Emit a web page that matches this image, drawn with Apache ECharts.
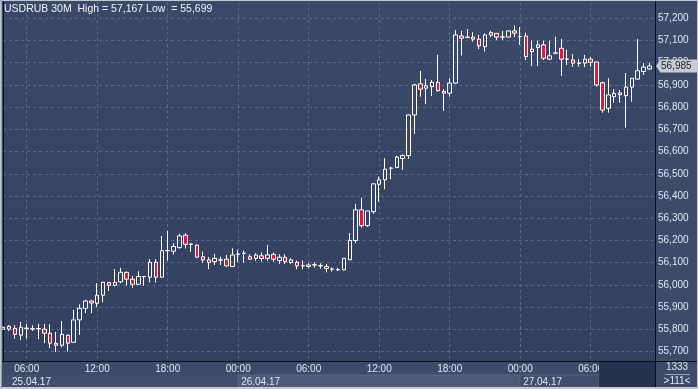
<!DOCTYPE html>
<html><head><meta charset="utf-8">
<script src="https://cdn.jsdelivr.net/npm/echarts@6/dist/echarts.min.js"></script>
<style>html,body{margin:0;padding:0;background:#3d4a68;}#c{width:698px;height:389px;}</style>
</head><body><div id="c"></div>
<script>
// ---- data (30-minute bars, index 0 = 25.04.17 04:00) ----
const opens = [55.801,55.814,55.805,55.774,55.804,55.803,55.803,55.801,55.783,55.738,
55.729,55.774,55.742,55.843,55.895,55.928,55.918,55.954,56.011,55.999,
56.014,56.057,56.026,56.003,56.037,56.035,56.102,56.035,56.154,56.152,
56.168,56.224,56.183,56.179,56.127,56.113,56.105,56.112,56.116,56.083,
56.138,56.142,56.127,56.120,56.131,56.120,56.138,56.110,56.125,56.101,
56.102,56.086,56.090,56.090,56.087,56.083,56.071,56.069,56.068,56.113,
56.200,56.338,56.267,56.330,56.453,56.473,56.525,56.528,56.569,56.582,
56.765,56.905,56.885,56.892,56.912,56.871,56.863,56.908,57.120,57.114,
57.115,57.106,57.072,57.124,57.132,57.115,57.115,57.143,57.117,57.120,
57.061,57.068,57.080,57.016,57.043,57.065,57.016,57.012,56.998,56.998,
57.016,57.003,56.910,56.795,56.847,56.864,56.852,56.890,56.926,56.960,
56.972];
const closes = [55.810,55.801,55.778,55.810,55.806,55.802,55.804,55.783,55.738,55.729,
55.778,55.738,55.843,55.895,55.928,55.919,55.954,56.012,55.999,56.012,
56.057,56.026,56.003,56.038,56.038,56.102,56.035,56.154,56.155,56.173,
56.221,56.183,56.184,56.125,56.113,56.101,56.120,56.113,56.086,56.135,
56.139,56.143,56.116,56.135,56.119,56.135,56.116,56.125,56.105,56.113,
56.086,56.087,56.083,56.091,56.086,56.074,56.072,56.068,56.120,56.200,
56.338,56.267,56.333,56.455,56.473,56.521,56.526,56.575,56.582,56.765,
56.900,56.881,56.896,56.912,56.874,56.863,56.908,57.125,57.110,57.115,
57.106,57.076,57.125,57.135,57.115,57.116,57.143,57.133,57.118,57.027,
57.050,57.080,57.020,57.031,57.044,57.016,57.017,56.998,56.997,57.016,
57.002,56.900,56.787,56.855,56.862,56.856,56.890,56.930,56.964,56.980,
56.985];
const lows = [55.799,55.793,55.759,55.753,55.759,55.793,55.756,55.738,55.716,55.699,
55.720,55.701,55.740,55.775,55.873,55.873,55.900,55.923,55.973,55.993,
56.008,55.997,55.988,56.002,55.997,56.011,56.011,56.034,56.110,56.138,
56.164,56.164,56.149,56.123,56.101,56.071,56.090,56.090,56.083,56.082,
56.105,56.101,56.113,56.109,56.105,56.109,56.105,56.095,56.095,56.095,
56.071,56.071,56.075,56.078,56.073,56.057,56.060,56.063,56.065,56.112,
56.188,56.258,56.262,56.320,56.375,56.431,56.476,56.527,56.518,56.567,
56.680,56.847,56.814,56.850,56.870,56.784,56.847,56.906,57.032,57.110,
57.095,57.061,57.050,57.115,57.102,57.102,57.114,57.115,57.080,57.012,
56.985,56.985,57.012,57.012,57.038,56.941,56.990,56.982,56.982,56.980,
56.982,56.892,56.775,56.775,56.820,56.820,56.708,56.825,56.925,56.945,
56.968];
const highs = [55.812,55.820,55.819,55.834,55.825,55.819,55.825,55.825,55.823,55.789,
55.838,55.778,55.888,55.913,55.933,55.933,56.008,56.014,56.014,56.071,
56.077,56.060,56.041,56.062,56.040,56.116,56.116,56.221,56.243,56.188,
56.230,56.233,56.188,56.183,56.150,56.125,56.140,56.127,56.135,56.165,
56.158,56.154,56.138,56.143,56.146,56.180,56.146,56.138,56.138,56.120,
56.110,56.110,56.098,56.102,56.098,56.095,56.080,56.077,56.121,56.233,
56.365,56.393,56.334,56.456,56.488,56.570,56.532,56.582,56.588,56.766,
56.905,56.963,56.927,56.922,57.035,56.881,56.930,57.147,57.143,57.151,
57.137,57.125,57.132,57.143,57.133,57.143,57.144,57.167,57.160,57.135,
57.099,57.099,57.099,57.099,57.117,57.107,57.058,57.039,57.016,57.035,
57.025,57.004,56.915,56.930,56.881,56.877,56.953,56.931,57.106,56.998,
57.000];
const priceTicks = [55.7,55.8,55.9,56.0,56.1,56.2,56.3,56.4,56.5,56.6,56.7,56.8,56.9,57.0,57.1,57.2];
const timeTickIdx = [4,16,28,40,52,64,76,88,100];
const timeLabels = ['06:00','12:00','18:00','00:00','06:00','12:00','18:00','00:00','06:00'];
const dateIdx = [0,40,88];
const dateLabels = ['25.04.17','26.04.17','27.04.17'];
const symbolName = 'USDRUB 30M';
const highValue = 57.167, lowValue = 55.699, lastPrice = 56.985;
const barsInfo = ['1333', '>111<'];

// ---- chart ----
const fmt = v => v.toFixed(3).replace('.', ',');
const candles = opens.map((o, i) => [i, o, closes[i], lows[i], highs[i]]);
const xMin = -0.034, xMax = 110.94, yMin = 55.658, yMax = 57.273;
const txt = '#dde6f3';
const FONT = '"Liberation Sans", Arial, sans-serif';

const baseGraphics = [
  {id: 'd1', type: 'rect', z: 0, shape: {x: 3, y: 375, width: 235, height: 12}, style: {fill: '#414e6c'}},
  {id: 'd2', type: 'rect', z: 0, shape: {x: 238, y: 375, width: 282, height: 12}, style: {fill: '#4d5a78', stroke: '#5a6684', lineWidth: 1}},
  {id: 'd3', type: 'rect', z: 0, shape: {x: 520, y: 375, width: 79, height: 12}, style: {fill: '#414e6c', stroke: '#56627f', lineWidth: 1}},
  {id: 'dk', type: 'rect', z: 50, shape: {x: 599, y: 362, width: 56, height: 25}, style: {fill: '#27324e'}},
  {id: 'hl', type: 'line', z: 50, shape: {x1: 0, y1: 361.5, x2: 698, y2: 361.5}, style: {stroke: '#0b0e16', lineWidth: 1}},
  {id: 'vl', type: 'line', z: 50, shape: {x1: 655.5, y1: 0, x2: 655.5, y2: 388}, style: {stroke: '#0b0e16', lineWidth: 1}},
  {id: 't1', type: 'text', z: 50, style: {text: barsInfo[0], x: 677, y: 367, fill: txt, font: '10px ' + FONT, align: 'center', verticalAlign: 'middle'}},
  {id: 'sl', type: 'line', z: 50, shape: {x1: 665, y1: 374.5, x2: 690, y2: 374.5}, style: {stroke: '#9aa4b8', lineWidth: 1}},
  {id: 't2', type: 'text', z: 50, style: {text: barsInfo[1], x: 677, y: 381, fill: txt, font: '10px ' + FONT, align: 'center', verticalAlign: 'middle'}},
  {id: 'f1', type: 'rect', z: 60, shape: {x: 0.5, y: 0.5, width: 697, height: 387}, style: {fill: 'none', stroke: '#c3c7cf', lineWidth: 1}},
  {id: 'f2', type: 'line', z: 60, shape: {x1: 1.5, y1: 0, x2: 1.5, y2: 388}, style: {stroke: '#9aa0ab', lineWidth: 1}},
  {id: 'f3', type: 'line', z: 60, shape: {x1: 0, y1: 388.5, x2: 698, y2: 388.5}, style: {stroke: '#c3c7cf', lineWidth: 1}}
];

const chart = echarts.init(document.getElementById('c'), null, {renderer: 'canvas'});
chart.setOption({
  animation: false,
  backgroundColor: '#3d4a68',
  textStyle: {fontFamily: FONT},
  title: {
    text: symbolName + '  High = ' + fmt(highValue) + ' Low  = ' + fmt(lowValue),
    left: 4, top: 4, padding: 0,
    textStyle: {color: '#eef2f8', fontSize: 10.5, fontWeight: 'normal', fontFamily: FONT}
  },
  grid: {left: 3, right: 43, top: 2, bottom: 28, show: true, borderWidth: 0,
    backgroundColor: new echarts.graphic.LinearGradient(0, 0, 0, 1, [
      {offset: 0, color: '#3b4868'}, {offset: 1, color: '#334060'}])},
  xAxis: [{
    type: 'value', min: xMin, max: xMax, position: 'bottom',
    axisLine: {show: true, onZero: false, lineStyle: {color: '#0b0e16', width: 1}},
    axisTick: {show: false, customValues: timeTickIdx},
    splitLine: {show: true, lineStyle: {color: '#58678a', type: [3, 3], width: 1}},
    axisLabel: {customValues: timeTickIdx, margin: 3, fontSize: 10, color: txt, fontFamily: FONT,
      formatter: v => timeLabels[timeTickIdx.indexOf(Math.round(v))]}
  }, {
    type: 'value', min: xMin, max: xMax, position: 'bottom', offset: 13,
    axisLine: {show: false}, axisTick: {show: false}, splitLine: {show: false},
    axisLabel: {customValues: dateIdx.map((d, k) => d + (k === 0 ? 1.5 : 0.5)), margin: 3, fontSize: 10,
      color: txt, align: 'left', fontFamily: FONT,
      formatter: v => dateLabels[dateIdx.indexOf(dateIdx.reduce((a, b) => Math.abs(b - v) < Math.abs(a - v) ? b : a))]}
  }],
  yAxis: {
    type: 'value', min: yMin, max: yMax, position: 'right', scale: true,
    axisLine: {show: true, lineStyle: {color: '#0b0e16', width: 1}},
    axisTick: {show: false, customValues: priceTicks},
    splitLine: {show: true, lineStyle: {color: '#58678a', type: [3, 3], width: 1}},
    axisLabel: {customValues: priceTicks, margin: 3, fontSize: 10, color: txt, fontFamily: FONT,
      formatter: v => fmt(v)}
  },
  series: [{
    type: 'candlestick',
    xAxisIndex: 0,
    data: candles,
    encode: {x: 0, y: [1, 2, 3, 4]},
    barWidth: 4,
    itemStyle: {color: 'rgba(0,0,0,0)', color0: '#e3173c', borderColor: '#ffffff', borderColor0: '#ffffff', borderWidth: 1}
  }],
  graphic: baseGraphics
});

// last-price tag, positioned through the chart's own scale
const p = chart.convertToPixel({seriesIndex: 0}, [xMax, lastPrice]);
const px = Math.round(p[0]) + 1, py = Math.round(p[1]);
chart.setOption({
  graphic: baseGraphics.concat([
    {id: 'pa', type: 'polygon', z: 70, shape: {points: [[px, py], [px + 4, py - 6], [px + 4, py + 6]]}, style: {fill: '#c6cbd4'}},
    {id: 'pb', type: 'rect', z: 70, shape: {x: px + 4, y: py - 6.5, width: 38, height: 13}, style: {fill: '#c6cbd4'}},
    {id: 'pt', type: 'text', z: 71, style: {text: fmt(lastPrice), x: px + 5, y: py + 0.5, fill: '#20242c', font: '10px ' + FONT, align: 'left', verticalAlign: 'middle'}}
  ])
});
</script></body></html>
